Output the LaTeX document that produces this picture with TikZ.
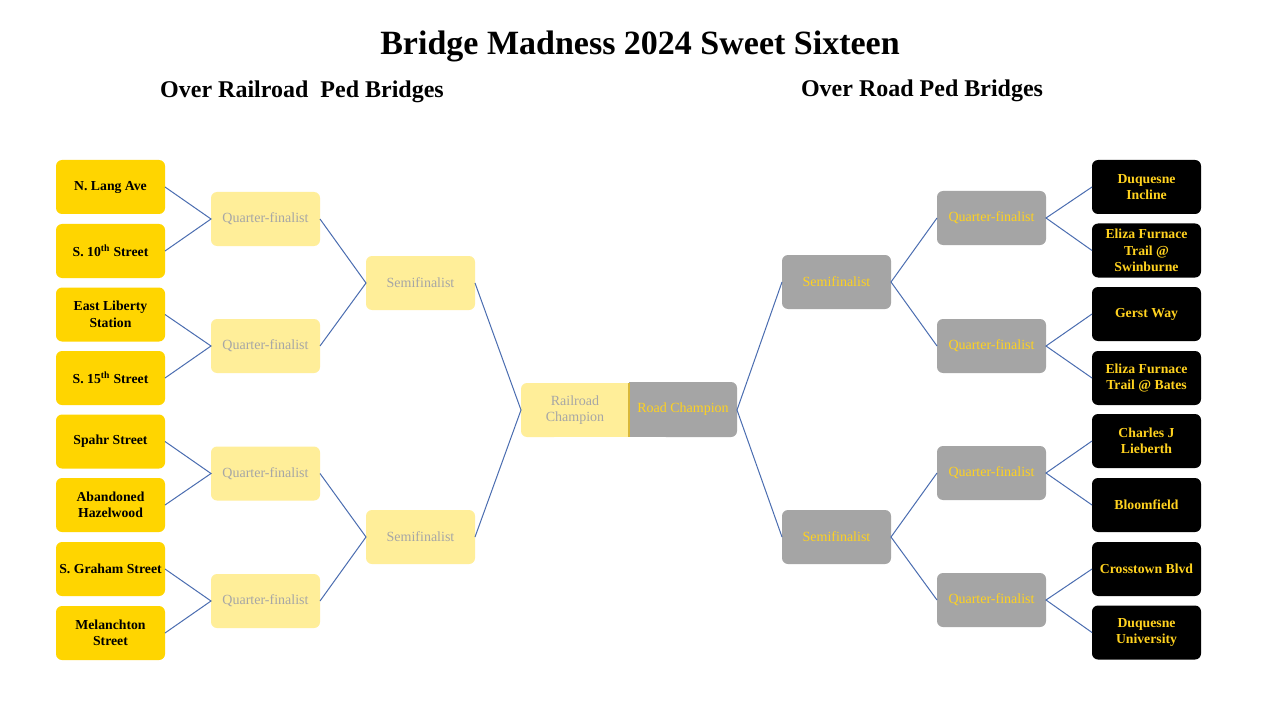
\documentclass[tikz,border=0pt]{standalone}
\usepackage{fontspec}
\setmainfont{Liberation Serif}
\definecolor{leafY}{HTML}{FFD500}
\definecolor{qfY}{HTML}{FFEE99}
\definecolor{qfTxt}{HTML}{A6A6A6}
\definecolor{grayBox}{HTML}{A5A5A5}
\definecolor{goldTxt}{HTML}{FFD21F}
\definecolor{lineBlue}{HTML}{4A6DB0}
\definecolor{champEdge}{HTML}{D9B83A}
\tikzset{
  x=0.75pt, y=-0.75pt,
  boxbase/.style={rectangle, rounded corners=4.5pt, minimum width=81.75pt, minimum height=40.5pt, inner sep=1pt, outer sep=0pt, align=center},
  leafL/.style={boxbase, fill=leafY, text=black, font=\bfseries\fontsize{10.3}{12.3}\selectfont},
  leafR/.style={boxbase, fill=black, text=goldTxt, font=\bfseries\fontsize{10.3}{12.3}\selectfont},
  qfL/.style={boxbase, fill=qfY, text=qfTxt, font=\fontsize{10.5}{12}\selectfont},
  qfR/.style={boxbase, fill=grayBox, text=goldTxt, font=\fontsize{10.5}{12}\selectfont},
  conn/.style={draw=lineBlue, line width=0.75pt},
}
\begin{document}
\begin{tikzpicture}
\useasboundingbox (0,0) rectangle (1280,720);
\fill[white] (0,0) rectangle (1280,720);
% titles
\node[font=\bfseries\fontsize{25.5}{28}\selectfont] (title) at (640,46) {Bridge Madness 2024 Sweet Sixteen};
\node[font=\bfseries\fontsize{18}{20}\selectfont] (subL) at (302,92) {Over Railroad\ \ Ped Bridges};
\node[font=\bfseries\fontsize{18}{20}\selectfont] (subR) at (922,91) {Over Road Ped Bridges};
% left leaves
\node[leafL] (l1) at (110.5,187) {N. Lang Ave};
\node[leafL] (l2) at (110.5,251) {S. 10\textsuperscript{th} Street};
\node[leafL] (l3) at (110.5,314.5) {East Liberty\\Station};
\node[leafL] (l4) at (110.5,378) {S. 15\textsuperscript{th} Street};
\node[leafL] (l5) at (110.5,441.5) {Spahr Street};
\node[leafL] (l6) at (110.5,505) {Abandoned\\Hazelwood};
\node[leafL] (l7) at (110.5,569) {S. Graham Street};
\node[leafL] (l8) at (110.5,633) {Melanchton\\Street};
% left QF
\node[qfL] (q1) at (265.5,219) {Quarter-finalist};
\node[qfL] (q2) at (265.5,346) {Quarter-finalist};
\node[qfL] (q3) at (265.5,473.5) {Quarter-finalist};
\node[qfL] (q4) at (265.5,601) {Quarter-finalist};
% left semis
\node[qfL] (s1) at (420.5,283) {Semifinalist};
\node[qfL] (s2) at (420.5,537) {Semifinalist};
% champions
\fill[qfY, rounded corners=4.5pt] (521,383) rectangle (560,437);
\fill[qfY] (540,383) rectangle (629,437);
\node[qfL, fill=none, minimum width=81pt, font=\fontsize{10.5}{12.5}\selectfont] (rc) at (575,410) {Railroad\\Champion};
\fill[grayBox, rounded corners=4.5pt] (660,382) rectangle (737,437);
\fill[grayBox] (629,382) rectangle (700,437);
\node[qfR, fill=none, minimum width=81pt] (dc) at (683,409.5) {Road Champion};
\draw[champEdge, line width=2pt] (629,383) -- (629,437);
% right semis
\node[qfR] (t1) at (836.5,282) {Semifinalist};
\node[qfR] (t2) at (836.5,537) {Semifinalist};
% right QF
\node[qfR] (p1) at (991.5,218) {Quarter-finalist};
\node[qfR] (p2) at (991.5,346) {Quarter-finalist};
\node[qfR] (p3) at (991.5,473) {Quarter-finalist};
\node[qfR] (p4) at (991.5,600) {Quarter-finalist};
% right leaves
\node[leafR] (r1) at (1146.5,187) {Duquesne\\Incline};
\node[leafR] (r2) at (1146.5,250.5) {Eliza Furnace\\Trail @\\Swinburne};
\node[leafR] (r3) at (1146.5,314) {Gerst Way};
\node[leafR] (r4) at (1146.5,378) {Eliza Furnace\\Trail @ Bates};
\node[leafR] (r5) at (1146.5,441) {Charles J\\Lieberth};
\node[leafR] (r6) at (1146.5,505) {Bloomfield};
\node[leafR] (r7) at (1146.5,569) {Crosstown Blvd};
\node[leafR] (r8) at (1146.5,632.5) {Duquesne\\University};
% connectors left
\draw[conn] (l1.east) -- (q1.west) -- (l2.east);
\draw[conn] (l3.east) -- (q2.west) -- (l4.east);
\draw[conn] (l5.east) -- (q3.west) -- (l6.east);
\draw[conn] (l7.east) -- (q4.west) -- (l8.east);
\draw[conn] (q1.east) -- (s1.west) -- (q2.east);
\draw[conn] (q3.east) -- (s2.west) -- (q4.east);
\draw[conn] (s1.east) -- (rc.west) -- (s2.east);
% connectors right
\coordinate (dcE) at (737,410);
\draw[conn] (t1.west) -- (dcE) -- (t2.west);
\draw[conn] (p1.west) -- (t1.east) -- (p2.west);
\draw[conn] (p3.west) -- (t2.east) -- (p4.west);
\draw[conn] (r1.west) -- (p1.east) -- (r2.west);
\draw[conn] (r3.west) -- (p2.east) -- (r4.west);
\draw[conn] (r5.west) -- (p3.east) -- (r6.west);
\draw[conn] (r7.west) -- (p4.east) -- (r8.west);
\end{tikzpicture}
\end{document}
